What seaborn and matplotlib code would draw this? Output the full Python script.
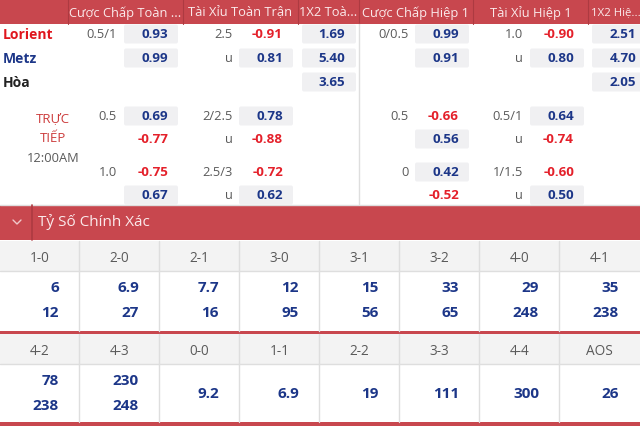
"""Odds board: Lorient vs Metz (full time / first half, live, correct score)."""
import matplotlib
matplotlib.use("Agg")
import matplotlib.pyplot as plt
from matplotlib.patches import Rectangle, FancyBboxPatch
import seaborn as sns

# ---- data ----
header_cols = ["Cược Chấp Toàn ...", "Tài Xỉu Toàn Trận", "1X2 Toà...",
               "Cược Chấp Hiệp 1", "Tài Xỉu Hiệp 1", "1X2 Hiệ..."]
teams = ["Lorient", "Metz", "Hòa"]

ft_hdp_line = ["0.5/1", ""]
ft_hdp = [0.93, 0.99]
ft_ou_line = ["2.5", "u"]
ft_ou = [-0.91, 0.81]
ft_1x2 = [1.69, 5.40, 3.65]
h1_hdp_line = ["0/0.5", ""]
h1_hdp = [0.99, 0.91]
h1_ou_line = ["1.0", "u"]
h1_ou = [-0.90, 0.80]
h1_1x2 = [2.51, 4.70, 2.05]

live_label = ["TRỰC", "TIẾP", "12:00AM"]
live_ft_hdp_line = ["0.5", "", "1.0", ""]
live_ft_hdp = [0.69, -0.77, -0.75, 0.67]
live_ft_ou_line = ["2/2.5", "u", "2.5/3", "u"]
live_ft_ou = [0.78, -0.88, -0.72, 0.62]
live_h1_hdp_line = ["0.5", "", "0", ""]
live_h1_hdp = [-0.66, 0.56, 0.42, -0.52]
live_h1_ou_line = ["0.5/1", "u", "1/1.5", "u"]
live_h1_ou = [0.64, -0.74, -0.60, 0.50]

section_title = "Tỷ Số Chính Xác"
score_labels_1 = ["1-0", "2-0", "2-1", "3-0", "3-1", "3-2", "4-0", "4-1"]
score_home_1 = [6, 6.9, 7.7, 12, 15, 33, 29, 35]
score_away_1 = [12, 27, 16, 95, 56, 65, 248, 238]
score_labels_2 = ["4-2", "4-3", "0-0", "1-1", "2-2", "3-3", "4-4", "AOS"]
score_home_2 = [78, 230, 9.2, 6.9, 19, 111, 300, 26]
score_away_2 = [238, 248, None, None, None, None, None, None]

# ---- style ----
sns.set_theme(style="white")
plt.rcParams["font.family"] = ["Open Sans", "DejaVu Sans"]

RED = "#c8474e"
DARKRED = "#ad3a41"
NAVY = "#1c3688"
NEG = "#e4202a"
GREY = "#5a5a5a"
BOX = "#f0f0f2"
LINE = "#dedede"

fig = plt.figure(figsize=(6.4, 4.27), dpi=100)
ax = fig.add_axes([0, 0, 1, 1])
ax.set_xlim(0, 640)
ax.set_ylim(427, 0)
ax.axis("off")

# header bar
ax.add_patch(Rectangle((0, 0), 640, 25, color=RED, lw=0))
col_edges = [68, 183, 298, 359, 473, 588, 645]
for x in col_edges[:-1]:
    ax.plot([x, x], [0, 25], color=DARKRED, lw=0.8)
for i, name in enumerate(header_cols):
    if i == 5:
        ax.text(591, 13, name, color="#fbeaeb", fontsize=8.2, ha="left", va="center")
        continue
    cx = (col_edges[i] + col_edges[i + 1]) / 2
    ax.text(cx, 13, name, color="#fbeaeb", fontsize=9.3, ha="center", va="center")

# separator between full time and first half
ax.plot([359, 359], [25, 205], color=LINE, lw=1)


def odds(x_line, x_box, x_val, y, line, val, force_box=False, w=54):
    if line:
        ax.text(x_line, y, line, color=GREY, fontsize=9.3, ha="right", va="center")
    if val is None:
        return
    if val > 0 or force_box:
        ax.add_patch(FancyBboxPatch((x_box + 2, y - 7.5), w - 4, 15,
                                    boxstyle="round,pad=2", color=BOX, lw=0))
    ax.text(x_val, y, f"{val:.2f}", color=NAVY if val > 0 else NEG,
            fontsize=9.6, fontweight="bold", ha="right", va="center")


# pre-match rows
team_colors = ["#e0161e", NAVY, "#222222"]
rows_y = [35, 59, 83]
for i, t in enumerate(teams):
    ax.text(3, rows_y[i], t, color=team_colors[i], fontsize=10,
            fontweight="bold", ha="left", va="center")
for i in range(2):
    y = rows_y[i]
    odds(117, 124, 168, y, ft_hdp_line[i], ft_hdp[i])
    odds(233, 239, 283, y, ft_ou_line[i], ft_ou[i])
    odds(409, 415, 459, y, h1_hdp_line[i], h1_hdp[i])
    odds(523, 530, 574, y, h1_ou_line[i], h1_ou[i])
for i in range(3):
    y = rows_y[i]
    odds(0, 302, 345, y, "", ft_1x2[i], force_box=True)
    odds(0, 592, 636, y, "", h1_1x2[i], force_box=True)

# live rows
ax.text(53, 119, live_label[0], color="#cc3b3b", fontsize=9.5, ha="center", va="center")
ax.text(53, 139, live_label[1], color="#cc3b3b", fontsize=9.5, ha="center", va="center")
ax.text(53, 159, live_label[2], color=GREY, fontsize=9.3, ha="center", va="center")
live_y = [117, 140, 173, 196]
for i, y in enumerate(live_y):
    odds(117, 124, 168, y, live_ft_hdp_line[i], live_ft_hdp[i])
    odds(233, 239, 283, y, live_ft_ou_line[i], live_ft_ou[i])
    odds(409, 415, 459, y, live_h1_hdp_line[i], live_h1_hdp[i])
    odds(523, 530, 574, y, live_h1_ou_line[i], live_h1_ou[i])

# correct score section bar
ax.plot([0, 640], [205.5, 205.5], color=LINE, lw=1)
ax.add_patch(Rectangle((0, 206), 640, 35, color=RED, lw=0))
ax.plot([32, 32], [206, 241], color=DARKRED, lw=1.2)
ax.plot([13, 17, 21], [221, 225, 221], color="#f0c8ca", lw=1)
ax.text(38, 222, section_title, color="#fbeaeb", fontsize=11, ha="left", va="center")


def score_block(top, labels, home, away):
    head_h = 30
    body_h = 60 if top < 300 else 58
    ax.add_patch(Rectangle((0, top), 640, head_h, color="#f3f3f3", lw=0))
    ax.plot([0, 640], [top + head_h, top + head_h], color=LINE, lw=1)
    for k in range(1, 8):
        x = -1 + 80 * k
        ax.plot([x, x], [top, top + head_h + body_h], color=LINE, lw=1)
    for k, lab in enumerate(labels):
        cx = 39.5 + 80 * k
        ax.text(cx, top + head_h / 2 + 2, lab, color=GREY, fontsize=9.8,
                ha="center", va="center")
        xr = 59 + 80 * k
        if away[k] is None:
            ax.text(xr, top + head_h + body_h / 2, f"{home[k]:g}", color=NAVY,
                    fontsize=11, fontweight="bold", ha="right", va="center")
        else:
            ax.text(xr, top + head_h + 16, f"{home[k]:g}", color=NAVY,
                    fontsize=11, fontweight="bold", ha="right", va="center")
            ax.text(xr, top + head_h + 41, f"{away[k]:g}", color=NAVY,
                    fontsize=11, fontweight="bold", ha="right", va="center")
    return top + head_h + body_h


bottom = score_block(242, score_labels_1, score_home_1, score_away_1)
ax.add_patch(Rectangle((0, bottom), 640, 3, color=RED, lw=0))
bottom = score_block(bottom + 3, score_labels_2, score_home_2, score_away_2)
ax.add_patch(Rectangle((0, bottom), 640, 5, color=RED, lw=0))

fig.savefig("out.png", dpi=100)
